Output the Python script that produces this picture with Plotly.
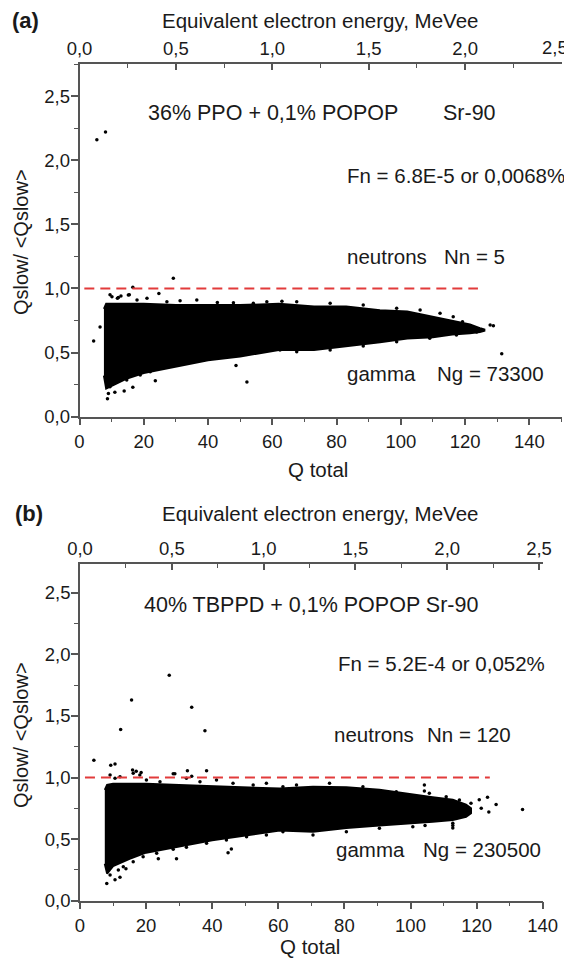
import plotly.graph_objects as go

# The page adds an 8px body margin, so the figure is drawn 8px smaller and
# every page position below is shifted by that margin.
PAGE_W, PAGE_H = 572, 961
OFF = 8
W, H = PAGE_W - OFF, PAGE_H - OFF

# ---------------- data ----------------
# panel (a): envelope of the dense gamma band
env_a_q = [7.6, 8.3, 10, 15, 20, 30, 40, 50, 62, 73, 83, 93.5, 102, 110, 116, 121.5, 124.6, 126]
env_a_up = [0.84, 0.88, 0.88, 0.88, 0.88, 0.87, 0.87, 0.87, 0.88, 0.86, 0.86, 0.83, 0.82, 0.78, 0.75, 0.72, 0.69, 0.68]
env_a_lo = [0.32, 0.22, 0.24, 0.30, 0.34, 0.39, 0.44, 0.47, 0.52, 0.52, 0.55, 0.58, 0.61, 0.62, 0.64, 0.65, 0.66, 0.67]
# panel (a): isolated events
pts_a_q = [4.4, 6.4, 5.4, 8.1, 29.2, 16.6, 24.7, 52.1, 48.7, 8.7, 23.6, 16.6, 13.9, 131.4,
           128.8, 127.8, 125.2, 123.6, 63.0, 42.9, 36.5, 9.5, 12.1, 15.5, 9.0, 11.0,
           119.2, 116.3, 122.0, 120.0,
           10.1, 11.8, 12.9, 15.2, 17.9, 21.0, 27.2, 31.3, 47.9, 54.1, 58.3,
           9.5, 11.6, 14.7, 18.9, 22.0, 27.2, 33.4, 39.6, 47.9, 54.1, 62.4,
           67.6, 78.0, 88.3, 98.7, 106.0, 112.2,
           67.6, 78.0, 88.3, 98.7, 109.0, 117.3]
pts_a_y = [0.59, 0.70, 2.16, 2.22, 1.08, 1.01, 0.96, 0.27, 0.40, 0.14, 0.28, 0.23, 0.20, 0.49,
           0.71, 0.715, 0.68, 0.66, 0.90, 0.89, 0.91, 0.95, 0.93, 0.95, 0.18, 0.19,
           0.74, 0.78, 0.685, 0.665,
           0.935, 0.923, 0.941, 0.948, 0.91, 0.923, 0.896, 0.904, 0.889, 0.884, 0.896,
           0.234, 0.273, 0.286, 0.325, 0.351, 0.39, 0.416, 0.455, 0.481, 0.507, 0.52,
           0.896, 0.884, 0.871, 0.845, 0.832, 0.806,
           0.507, 0.52, 0.551, 0.585, 0.611, 0.637]
cut_a_q = [1.5, 124]
cut_a_y = [1.0, 1.0]

# panel (b)
env_b_q = [7.5, 8.2, 10, 15, 20, 30, 40, 50, 60.4, 70.5, 80.6, 90.6, 100.7, 106.7, 112.8, 116.8, 118.3]
env_b_up = [0.90, 0.94, 0.95, 0.95, 0.95, 0.94, 0.93, 0.92, 0.91, 0.925, 0.92, 0.90, 0.86, 0.84, 0.82, 0.78, 0.75]
env_b_lo = [0.30, 0.22, 0.28, 0.34, 0.39, 0.44, 0.49, 0.53, 0.57, 0.56, 0.59, 0.61, 0.63, 0.64, 0.655, 0.68, 0.71]
pts_b_q = [4.2, 12.3, 15.6, 27.0, 33.8, 37.8, 9.3, 10.6, 38.3, 32.5, 28.7, 15.9, 17.0, 18.5,
           8.1, 10.6, 12.1, 13.9, 23.7, 29.2, 44.8, 45.8, 28.2, 33.8, 104.2, 104.2, 120.8,
           123.3, 123.7, 125.9, 133.9, 121.4, 112.8, 112.8, 104.4, 118.3,
           9.1, 10.6, 12.1, 16.1, 18.1, 20.1, 24.2, 32.2, 36.3, 41.3, 46.3, 52.4, 56.4, 61.4,
           9.1, 11.6, 13.1, 16.1, 19.1, 23.2, 28.2, 32.2, 38.3, 44.3, 50.4, 56.4, 61.4,
           65.5, 75.5, 85.6, 95.7, 105.7, 110.8, 114.8,
           70.5, 80.6, 90.6, 100.7, 112.8]
pts_b_y = [1.14, 1.39, 1.63, 1.83, 1.57, 1.38, 1.10, 1.11, 1.055, 1.055, 1.03, 1.06, 1.05, 1.04,
           0.14, 0.17, 0.19, 0.26, 0.34, 0.34, 0.39, 0.42, 1.03, 1.01, 0.94, 0.89, 0.82,
           0.84, 0.72, 0.78, 0.74, 0.75, 0.61, 0.59, 0.61, 0.79,
           1.02, 0.993, 1.006, 1.034, 1.02, 0.98, 0.966, 0.993, 0.966, 0.98, 0.953, 0.939, 0.953, 0.925,
           0.209, 0.249, 0.276, 0.317, 0.357, 0.385, 0.417, 0.433, 0.466, 0.493, 0.52, 0.533, 0.56,
           0.939, 0.953, 0.925, 0.885, 0.872, 0.844, 0.817,
           0.533, 0.56, 0.588, 0.60, 0.628]
cut_b_q = [1.5, 124]
cut_b_y = [1.0, 1.0]

y_ticks = [0, 0.5, 1.0, 1.5, 2.0, 2.5]
top_ticks = [0, 0.5, 1.0, 1.5, 2.0, 2.5]
top_labels = ["0,0", "0,5", "1,0", "1,5", "2,0", "2,5"]
q_ticks = [0, 20, 40, 60, 80, 100, 120, 140]

# ---------------- layout helpers ----------------
def px(x):
    return (x - OFF) / W

def py(y):
    return 1 - (y - OFF) / H

FONT = "Liberation Sans, Arial, sans-serif"
TXT = "#1a1a1a"
AX = "#555555"
RED = "#e23b3b"

fig = go.Figure()

def add_panel(xa, xt, ya, eq, eu, el, pq, pyv, cq, cy):
    poly_x = list(eq) + list(eq)[::-1]
    poly_y = list(eu) + list(el)[::-1]
    fig.add_trace(go.Scatter(x=poly_x, y=poly_y, xaxis=xa, yaxis=ya, mode="lines",
                             fill="toself", fillcolor="black",
                             line=dict(color="black", width=2), hoverinfo="skip",
                             showlegend=False))
    fig.add_trace(go.Scatter(x=pq, y=pyv, xaxis=xa, yaxis=ya, mode="markers",
                             marker=dict(color="black", size=3.5), showlegend=False))
    fig.add_trace(go.Scatter(x=cq, y=cy, xaxis=xa, yaxis=ya, mode="lines",
                             line=dict(color=RED, width=2, dash="10px,6px"),
                             showlegend=False))
    fig.add_trace(go.Scatter(x=[0], y=[0], xaxis=xt, yaxis=ya, mode="markers",
                             marker=dict(opacity=0), showlegend=False, hoverinfo="skip"))

add_panel("x", "x2", "y", env_a_q, env_a_up, env_a_lo, pts_a_q, pts_a_y, cut_a_q, cut_a_y)
add_panel("x3", "x4", "y2", env_b_q, env_b_up, env_b_lo, pts_b_q, pts_b_y, cut_b_q, cut_b_y)

TICK_SIZE = 18.5
tickfont = dict(family=FONT, size=TICK_SIZE, color=TXT)

def bottom_axis(dom, anchor, rng):
    return dict(domain=dom, anchor=anchor, range=rng, tickvals=q_ticks, automargin=False,
                showline=True, linecolor=AX, linewidth=1.5, ticks="outside", ticklen=7,
                tickwidth=1.5, tickcolor=AX, showgrid=False, zeroline=False,
                tickfont=tickfont, ticklabeloverflow="allow",
                minor=dict(ticks="outside", dtick=10, tick0=0, ticklen=4, tickwidth=1.2,
                           tickcolor=AX, showgrid=False))

def top_axis(overlay, anchor, rng, labels):
    return dict(overlaying=overlay, anchor=anchor, side="top", range=rng, tickvals=top_ticks,
                ticktext=labels, automargin=False, ticklabeloverflow="allow",
                showline=True, linecolor=AX, linewidth=1.5,
                ticks="inside", ticklen=6, tickwidth=1.5, tickcolor=AX, showgrid=False,
                zeroline=False, tickfont=tickfont,
                minor=dict(ticks="inside", dtick=0.25, tick0=0, ticklen=4, tickwidth=1.2,
                           tickcolor=AX, showgrid=False))

def left_axis(dom, anchor, rng):
    return dict(domain=dom, anchor=anchor, range=rng, tickvals=y_ticks, tickformat=".1f",
                automargin=False, ticklabelstandoff=-3, ticklabeloverflow="allow",
                showline=True, linecolor=AX, linewidth=1.5, ticks="outside", ticklen=7,
                tickwidth=1.5, tickcolor=AX, showgrid=False, zeroline=False,
                tickfont=tickfont,
                minor=dict(ticks="outside", dtick=0.25, tick0=0, ticklen=4, tickwidth=1.2,
                           tickcolor=AX, showgrid=False))

ax_a = [px(79.5), px(561.5)]
ay_a = [py(416.7), py(64)]
ax_b = [px(80), px(542.7)]
ay_b = [py(900.7), py(564)]

# the last top label of panel (a) sits at the page edge: drawn as a note instead
top_labels_a = top_labels[:-1] + [""]

fig.update_layout(
    width=W, height=H, autosize=False,
    margin=dict(l=0, r=0, t=0, b=0, pad=0, autoexpand=False),
    paper_bgcolor="white", plot_bgcolor="rgba(0,0,0,0)",
    separators=",.",
    font=dict(family=FONT, size=18, color=TXT),
    xaxis=bottom_axis(ax_a, "y", [0, 150]),
    xaxis2=top_axis("x", "y", [0, 2.5], top_labels_a),
    yaxis=left_axis(ay_a, "x", [0, 2.75]),
    xaxis3=bottom_axis(ax_b, "y2", [0, 140]),
    xaxis4=top_axis("x3", "y2", [0, 2.52], top_labels),
    yaxis2=left_axis(ay_b, "x3", [0, 2.733]),
)

def note(text, x, y, size=20.5, anchor="left", bold=False, angle=0):
    fig.add_annotation(text=("<b>%s</b>" % text) if bold else text,
                       x=px(x), y=py(y), xref="paper", yref="paper",
                       xanchor=anchor, yanchor="middle", showarrow=False,
                       borderpad=0, textangle=angle,
                       font=dict(family=FONT, size=size, color=TXT))

# panel (a) text
note("(a)", 25, 21, size=22, anchor="center", bold=True)
note("Equivalent electron energy, MeVee", 320, 21, anchor="center")
note(top_labels[-1], 569, 48, size=TICK_SIZE, anchor="right")
note("36% PPO + 0,1% POPOP", 147, 113, size=21.5)
note("Sr-90", 442, 113, size=21.5)
note("Fn = 6.8E-5 or 0,0068%", 566, 175, anchor="right")
note("neutrons", 346, 256)
note("Nn = 5", 443, 256)
note("gamma", 346, 373)
note("Ng = 73300", 436, 373)
note("Q total", 318, 469, anchor="center")
note("Qslow/ &lt;Qslow&gt;", 21, 242, size=20, anchor="center", angle=-90)

# panel (b) text
note("(b)", 29, 513, size=22, anchor="center", bold=True)
note("Equivalent electron energy, MeVee", 320, 513, anchor="center")
note("40% TBPPD + 0,1% POPOP Sr-90", 143, 605, size=21.5)
note("Fn = 5.2E-4 or 0,052%", 337, 663)
note("neutrons", 333, 734)
note("Nn = 120", 426, 734)
note("gamma", 335, 849)
note("Ng = 230500", 422, 849)
note("Q total", 310, 946, anchor="center")
note("Qslow/ &lt;Qslow&gt;", 21, 735, size=20, anchor="center", angle=-90)

fig.write_html("out.html")
